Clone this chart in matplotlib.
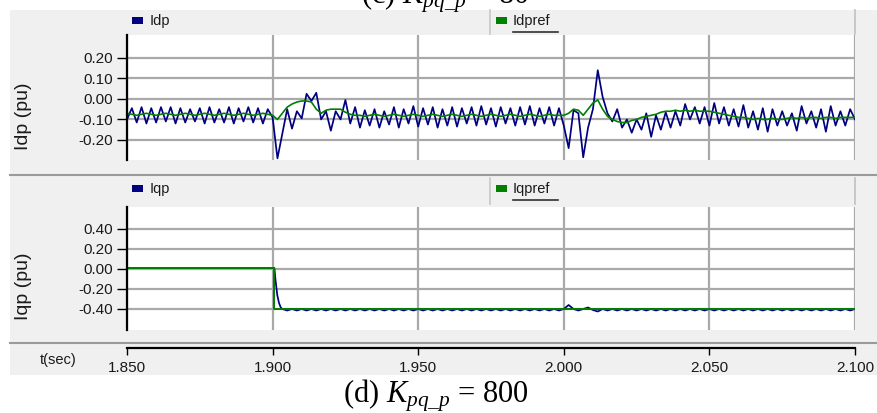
import numpy as np
import matplotlib
matplotlib.use("Agg")
import matplotlib.pyplot as plt
from matplotlib.patches import Rectangle
from matplotlib.lines import Line2D

plt.rcParams["font.family"] = ["Liberation Sans", "DejaVu Sans"]
plt.rcParams["mathtext.fontset"] = "custom"
plt.rcParams["mathtext.rm"] = "Liberation Serif"
plt.rcParams["mathtext.it"] = "Liberation Serif:italic"

# sampled traces, one value every 1/600 s from 1.850 s
t_start = 1.85
t_step = 1 / 600

idp = [
    -0.10, -0.045, -0.115, -0.04, -0.12, -0.045, -0.115, -0.04, -0.11, -0.04,
    -0.12, -0.045, -0.115, -0.05, -0.11, -0.045, -0.12, -0.04, -0.115, -0.05,
    -0.115, -0.04, -0.12, -0.045, -0.11, -0.04, -0.115, -0.045, -0.12, -0.05,
    -0.09, -0.29, -0.17, -0.05, -0.145, -0.06, -0.095, 0.025, -0.01, 0.03,
    -0.10, -0.06, -0.155, -0.06, -0.10, -0.005, -0.12, -0.04, -0.14, -0.055,
    -0.13, -0.05, -0.14, -0.06, -0.125, -0.04, -0.14, -0.05, -0.12, -0.035,
    -0.135, -0.045, -0.125, -0.04, -0.14, -0.05, -0.13, -0.04, -0.135, -0.045,
    -0.12, -0.04, -0.13, -0.035, -0.125, -0.045, -0.135, -0.04, -0.12, -0.045,
    -0.13, -0.04, -0.125, -0.035, -0.13, -0.045, -0.12, -0.04, -0.13, -0.045,
    -0.13, -0.24, -0.055, -0.07, -0.285, -0.14, -0.05, 0.14, 0.01, -0.07,
    -0.11, -0.05, -0.14, -0.10, -0.165, -0.10, -0.15, -0.07, -0.185, -0.08,
    -0.15, -0.065, -0.14, -0.06, -0.13, -0.025, -0.10, -0.04, -0.12, -0.04,
    -0.13, -0.02, -0.12, -0.04, -0.13, -0.05, -0.135, -0.03, -0.14, -0.06,
    -0.15, -0.045, -0.16, -0.05, -0.13, -0.06, -0.13, -0.07, -0.155, -0.035,
    -0.12, -0.06, -0.14, -0.05, -0.16, -0.035, -0.13, -0.06, -0.13, -0.05,
    -0.10,
]

idpref = [
    -0.07, -0.075, -0.08, -0.075, -0.07, -0.075, -0.08, -0.075, -0.07, -0.075,
    -0.08, -0.075, -0.07, -0.075, -0.08, -0.075, -0.07, -0.075, -0.08, -0.075,
    -0.07, -0.075, -0.08, -0.075, -0.07, -0.075, -0.08, -0.075, -0.07, -0.075,
    -0.08, -0.10, -0.07, -0.04, -0.025, -0.015, -0.01, -0.01, -0.015, -0.05,
    -0.07, -0.055, -0.05, -0.05, -0.05, -0.065, -0.075, -0.08, -0.08, -0.085,
    -0.08, -0.075, -0.08, -0.085, -0.08, -0.075, -0.08, -0.085, -0.08, -0.075,
    -0.08, -0.085, -0.08, -0.075, -0.08, -0.085, -0.08, -0.075, -0.08, -0.085,
    -0.08, -0.075, -0.08, -0.085, -0.08, -0.075, -0.08, -0.085, -0.08, -0.075,
    -0.08, -0.085, -0.08, -0.075, -0.08, -0.085, -0.08, -0.075, -0.08, -0.08,
    -0.08, -0.07, -0.05, -0.055, -0.08, -0.05, -0.02, -0.005, -0.05, -0.085,
    -0.10, -0.11, -0.115, -0.115, -0.105, -0.10, -0.09, -0.085, -0.08, -0.075,
    -0.065, -0.06, -0.06, -0.055, -0.06, -0.055, -0.06, -0.055, -0.06, -0.06,
    -0.06, -0.065, -0.07, -0.075, -0.08, -0.085, -0.09, -0.09, -0.095, -0.10,
    -0.095, -0.10, -0.10, -0.095, -0.10, -0.10, -0.095, -0.09, -0.095, -0.09,
    -0.095, -0.09, -0.09, -0.095, -0.09, -0.09, -0.095, -0.09, -0.09, -0.09,
    -0.09,
]

# Iqp: step part read point by point, then sampled from 1.905 s on
iqp_step_t = [1.850, 1.9006, 1.9010, 1.9016, 1.9022, 1.9028, 1.9033]
iqp_step_v = [0.01, 0.01, -0.11, -0.26, -0.34, -0.385, -0.40]
iqp_first_sample = 33
iqp_tail = [
    -0.415, -0.40, -0.415, -0.40, -0.415, -0.40, -0.415,
    -0.40, -0.415, -0.40, -0.415, -0.40, -0.415, -0.40, -0.415, -0.40, -0.415,
    -0.40, -0.415, -0.40, -0.415, -0.40, -0.415, -0.40, -0.415, -0.40, -0.415,
    -0.40, -0.415, -0.40, -0.415, -0.40, -0.415, -0.40, -0.415, -0.40, -0.415,
    -0.40, -0.415, -0.40, -0.415, -0.40, -0.415, -0.40, -0.415, -0.40, -0.415,
    -0.40, -0.415, -0.40, -0.415, -0.40, -0.415, -0.40, -0.415, -0.40, -0.415,
    -0.40, -0.36, -0.40, -0.415, -0.40, -0.385, -0.41, -0.425, -0.40, -0.415,
    -0.40, -0.415, -0.40, -0.415, -0.40, -0.415, -0.40, -0.415, -0.40, -0.415,
    -0.40, -0.415, -0.40, -0.415, -0.40, -0.415, -0.40, -0.415, -0.40, -0.415,
    -0.40, -0.415, -0.40, -0.415, -0.40, -0.415, -0.40, -0.415, -0.40, -0.415,
    -0.40, -0.415, -0.40, -0.415, -0.40, -0.415, -0.40, -0.415, -0.40, -0.415,
    -0.40, -0.415, -0.40, -0.415, -0.40, -0.415, -0.40, -0.415, -0.40, -0.415,
    -0.40,
]

iqpref_t = [1.850, 1.9004, 1.9004, 2.100]
iqpref_v = [0.01, 0.01, -0.40, -0.40]

idp_ticks = [0.20, 0.10, 0.00, -0.10, -0.20]
iqp_ticks = [0.40, 0.20, 0.00, -0.20, -0.40]
t_ticks = [1.850, 1.900, 1.950, 2.000, 2.050, 2.100]

t_grid = t_start + np.arange(len(idp)) * t_step
iqp_t = np.concatenate([iqp_step_t, t_grid[iqp_first_sample:]])
iqp = np.concatenate([iqp_step_v, iqp_tail])

W, H = 877, 413
fig = plt.figure(figsize=(W / 100, H / 100), dpi=100)
fig.patch.set_facecolor("white")
txt_c = "#1a1a1a"


def box(x0, y0, x1, y1):
    # pixel box (top-left origin) -> figure rect
    return [x0 / W, 1 - y1 / H, (x1 - x0) / W, (y1 - y0) / H]


def hline(x0, x1, y, **kw):
    fig.add_artist(Line2D([x0 / W, x1 / W], [1 - y / H] * 2, **kw))


def vline(x, y0, y1, **kw):
    fig.add_artist(Line2D([x / W] * 2, [1 - y0 / H, 1 - y1 / H], **kw))


fig.patches.append(Rectangle((10 / W, 1 - 375 / H), (W - 10) / W, 365 / H,
                             transform=fig.transFigure, facecolor="#f0f0f0",
                             edgecolor="none", zorder=-5))

blue = "#000080"
green = "#008000"
grid_c = "#a9a9a9"


def panel(y0, y1, ylim, ticks):
    ax = fig.add_axes(box(127, y0, 855, y1))
    ax.set_xlim(1.85, 2.10)
    ax.set_ylim(*ylim)
    ax.set_facecolor("white")
    for s in ["top", "right", "bottom"]:
        ax.spines[s].set_visible(False)
    ax.spines["left"].set_color("black")
    ax.spines["left"].set_linewidth(1.6)
    ax.set_yticks(ticks)
    ax.set_yticklabels([f"{v:.2f}" for v in ticks], fontsize=11, color=txt_c)
    ax.set_xticks(t_ticks)
    ax.tick_params(axis="x", length=0, labelbottom=False)
    ax.tick_params(axis="y", length=7, width=1, direction="out", pad=3)
    ax.grid(True, color=grid_c, lw=1.6)
    ax.set_axisbelow(True)
    return ax


ax1 = panel(35, 160, (-0.298, 0.312), idp_ticks)
ax1.plot(t_grid, idp, color=blue, lw=1.25)
ax1.plot(t_grid, idpref, color=green, lw=1.2)

ax2 = panel(207, 330, (-0.61, 0.62), iqp_ticks)
ax2.plot(iqp_t, iqp, color=blue, lw=1.25)
ax2.plot(iqpref_t, iqpref_v, color=green, lw=1.4)

# time axis
ax3 = fig.add_axes(box(127, 347, 855, 348))
ax3.set_xlim(1.85, 2.10)
ax3.set_facecolor("none")
for s in ["top", "right", "left"]:
    ax3.spines[s].set_visible(False)
ax3.spines["bottom"].set_linewidth(1.6)
ax3.set_yticks([])
ax3.set_xticks(t_ticks)
ax3.set_xticklabels([f"{v:.3f}" for v in t_ticks], fontsize=11, color=txt_c)
ax3.tick_params(axis="x", length=5, width=1, pad=4)
fig.text(40 / W, 1 - 360 / H, "t(sec)", fontsize=10.5, va="center",
         ha="left", color=txt_c)

# y labels
fig.text(23 / W, 1 - 116 / H, "Idp (pu)", rotation=90, fontsize=14,
         ha="center", va="center", color=txt_c)
fig.text(23 / W, 1 - 286 / H, "Iqp (pu)", rotation=90, fontsize=14,
         ha="center", va="center", color=txt_c)

# separators
for y in [175, 343]:
    hline(10, W, y, color="#9a9a9a", lw=1.5)
for y0, y1 in [(10, 34), (178, 204)]:
    vline(490, y0, y1, color="#c8c8c8", lw=1.2)
    vline(855, y0, y1, color="#c0c0c0", lw=1.2)

# legend headers
for ytop, names in [(17, ("Idp", "Idpref")), (185, ("Iqp", "Iqpref"))]:
    fig.patches.append(Rectangle((132 / W, 1 - (ytop + 7) / H), 11 / W, 7 / H,
                                 transform=fig.transFigure, facecolor=blue,
                                 edgecolor="none"))
    fig.text(150 / W, 1 - (ytop + 4) / H, names[0], fontsize=10.5,
             va="center", color=txt_c)
    fig.patches.append(Rectangle((496 / W, 1 - (ytop + 7) / H), 11 / W, 7 / H,
                                 transform=fig.transFigure, facecolor=green,
                                 edgecolor="none"))
    fig.text(513 / W, 1 - (ytop + 4) / H, names[1], fontsize=10.5,
             va="center", color=txt_c)
    hline(513, 558, ytop + 14.5, color="#303030", lw=1.2)

# captions
fig.text(445 / W, 1 - 3.5 / H, r"(c) $K_{pq\_p}$ = 80", fontsize=22,
         family="Liberation Serif", ha="center", va="baseline")
fig.text(436 / W, 1 - 403 / H, r"(d) $K_{pq\_p}$ = 800", fontsize=22,
         family="Liberation Serif", ha="center", va="baseline")

fig.savefig("out.png", dpi=100)
